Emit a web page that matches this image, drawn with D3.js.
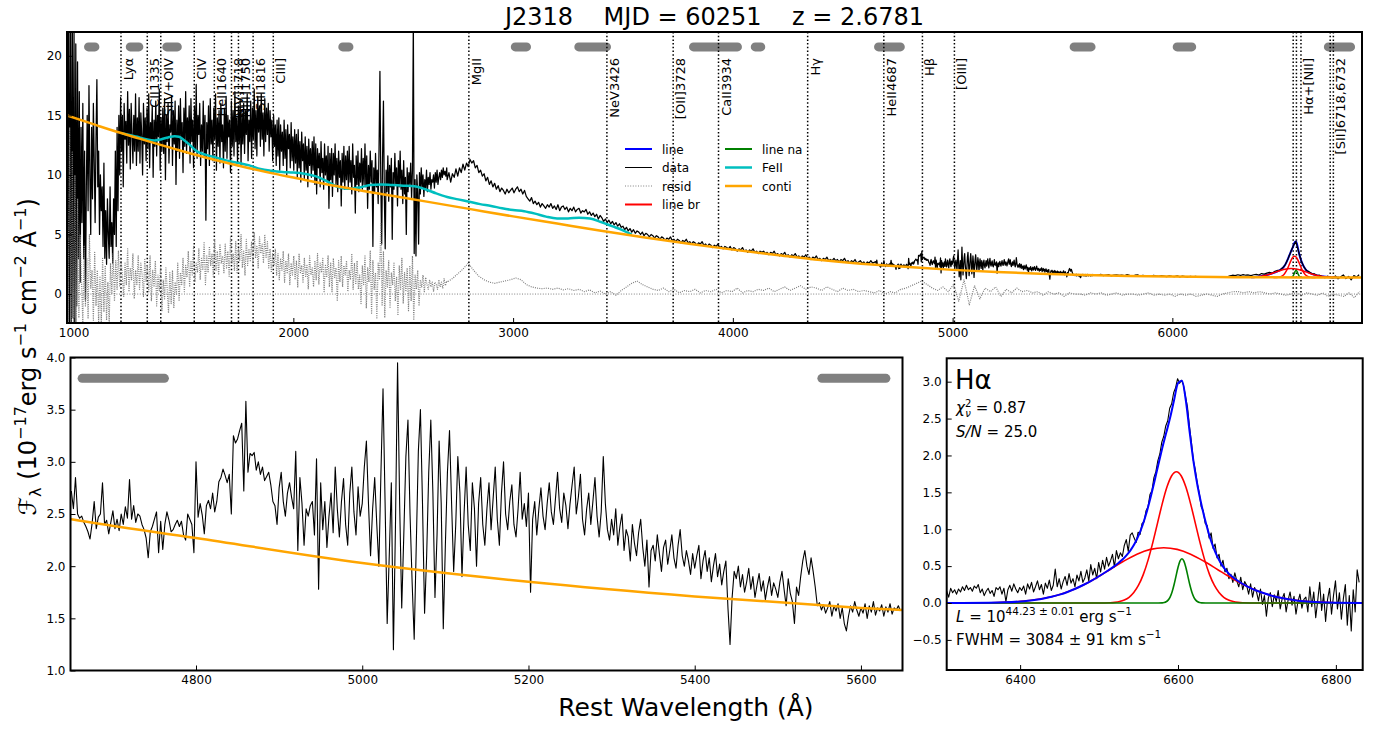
<!DOCTYPE html>
<html><head><meta charset="utf-8">
<script src="https://cdn.jsdelivr.net/npm/d3@7"></script>
<style>
body{margin:0;background:#fff;}
svg{display:block;font-family:"DejaVu Sans",sans-serif;}
</style></head>
<body><svg id="c" width="1379" height="731"></svg>
<script>
// ---------------- DATA ----------------
const titleText = "J2318    MJD = 60251    z = 2.6781";
const xLabelText = "Rest Wavelength (Å)";
const topXTicks = [1000,2000,3000,4000,5000,6000];
const topYTicks = [0,5,10,15,20];
const hbXTicks = [4800,5000,5200,5400,5600];
const hbYTicks = [1.0,1.5,2.0,2.5,3.0,3.5,4.0];
const haXTicks = [6400,6600,6800];
const haYTicks = [-0.5,0.0,0.5,1.0,1.5,2.0,2.5,3.0];

// observed spectrum (rest wavelength grid start/step, flux in 1e-17)
const fluxUVStart = 970, fluxUVStep = 4;
const fluxUV = [
24,-4,26,-3,23,-4,25,-2,22,-3,21,-1,19.5,3,17,1,14,6,16,3,
12,-0.5,9,15,7,17.5,10,5,14,8,16,11,6,13,18,9,12,5,10,7,
9,4,11,3,7,2.5,8,5,3,9,4,6,2.6,8,5,12,4,14,7,15,
10,16.5,12,15,9,16,13,14.5,11,17,12.5,15.5,10.5,16,13.5,11,15,12,16.8,10.8,
14.8,12,16.5,11,15.2,13.4,10,16,12.6,14.8,11.2,15.6,12.2,16.8,10.6,14.4,13,15.8,9.8,14.6,
12.4,16.2,11.6,15,13.2,17.2,10.4,14.8,12,15.6,11.8,16.4,9.6,15,12.8,16,11,14.2,13.6,16.6,
10.8,15.4,12.6,16.2,9.2,14.6,12,15.8,11.4,16.4,13,14.4,10.2,15.6,12.4,17,11.8,14.8,12.6,15.8,
11,16.4,12.8,14.6,10.6,15.8,12.2,17.6,11.4,15,13.4,16,10.8,14.2,12,16.2,11.6,15,6.2,14.4,
12.2,15.8,10.8,16.4,12.6,14.6,11.2,15.6,13,16.8,10.4,14.8,12.4,15.4,11,16,12.8,14.2,10.6,15.6,
12,16.6,11.4,15,13.2,14.6,10.2,16.2,12.4,15.4,11.6,17,12.8,14.8,11,15.8,12.6,16.4,10.8,15.2,
12.6,16,11.8,15.4,13.4,16.8,11.2,14.6,12.8,16.2,11.4,15.6,13,17.2,12.2,15.4,11.6,16.6,13.6,15.8,
12.4,16.8,13,15.2,11.6,16.4,12.8,15.6,13.4,16,12,15.4,13.2,14.6,11.2,15,12.4,14.2,10.8,14.6,
11.6,14.8,10.4,14.2,12,13.6,10.8,14.6,11.4,13.8,10,14.2,12.2,13.4,10.6,14.4,11.2,13.2,10.4,13.8,
11,13.4,9.8,13.8,10.6,12.8,9.4,13.6,11.2,12.6,9.6,13.2,10.4,12.4,9,13,10.8,12.2,9.8,12.8,
10.4,13.2,9.2,12.6,8.4,12.2,10.6,11.8,9,12.8,10.2,11.4,8.8,12.6,10,11.6,9.4,12.4,7.2,11.8,
9.6,12.2,8.2,11.8,10,12.6,9.2,11.4,8.6,12,9.8,11.2,7.4,11.8,9.4,12.4,8.8,11.6,9.6,12,
9,12.4,9.4,11.2,8.4,12.6,9.8,10.8,6.8,11.6,9.2,12,8.6,11,9.4,12.2,8.8,11.4,9.2,12.6,
9,11.6,7.2,10.8,8.8,12,9.4,11.2,4,10.6,8.6,11.8,9,10.4,7.6,12.2,18.7,9.4,4.2,11.4,
16.2,8.4,3.8,10.4,8.6,11.6,7.8,10.8,9,11.4,4.6,10.2,8.8,11.8,9.2,10.6,7.4,11.2,9,12,
8.8,10.4,7.6,11.2,8.4,9.8,5,10.6,8.6,10.2,9.2,11,8,10.4,23,3.4,9.6,3.2,10,8.4,
4.2,10.2,8.4,10.6,9,10,8.2,9.6,8.8,10.4,8.6,9.8,9.2,10.2,8.8,9.6,9.4,10,8.9,10.2,
9.4,10.4,9.2,9.8,10.2,9.6,10.4,9.8,10.6,10,10.3,9.9,10.6];

const fluxMidStart = 2700, fluxMidStep = 8;
const fluxMid = [
9.6,10.2,9.4,10.1,9.8,10.5,9.9,10.6,10.2,10.9,10.4,11.0,10.7,11.3,11.0,11.2,10.6,10.8,10.2,10.4,
9.9,10.1,9.5,9.8,9.2,9.5,9.0,9.3,8.8,9.1,8.6,8.9,8.7,8.4,8.8,8.5,8.7,8.9,8.5,8.8,
9.0,8.6,8.8,8.4,8.7,8.2,8.0,7.8,8.1,7.6,7.8,7.5,7.7,7.3,7.6,7.4,7.2,7.5,7.3,7.6,
7.2,7.4,7.1,7.5,7.0,7.3,7.4,7.1,7.3,6.9,7.2,7.0,7.3,6.9,7.1,7.2,6.8,7.0,6.9,7.1,
6.7,6.9,6.6,6.8,6.5,6.7,6.3,6.6,6.4,6.1,6.3,6.0,6.2,5.9,6.1,5.8,6.0,5.7,5.9,5.6,
5.7,5.4,5.6,5.3,5.5,5.2,5.4,5.1,5.3,5.2,5.0,5.2,4.9,5.1,5.0,4.8,5.0,4.9,4.7,4.9,
4.8,4.6,4.8,4.7,4.5,4.7,4.6,4.8,4.5,4.6,4.4,4.6,4.5,4.3,4.5,4.4,4.6,4.3,4.4,4.2,
4.4,4.3,4.1,4.3,4.2,4.4,4.1,4.2,4.0,4.2,4.1,3.9,4.1,4.0,4.2,3.9,4.0,3.8,4.0,3.9,
3.8,4.0,3.7,3.9,3.8,3.6,3.8,3.7,3.9,3.6,3.7,3.5,3.7,3.6,3.8,3.5,3.6,3.4,3.6,3.5,
3.6,3.4,3.5,3.3,3.5,3.4,3.6,3.3,3.4,3.2,3.4,3.3,3.5,3.2,3.3,3.1,3.3,3.2,3.4,3.1,
3.2,3.0,3.2,3.1,3.3,3.0,3.1,2.9,3.1,3.0,3.2,2.9,3.0,2.8,3.0,2.9,3.1,2.8,2.9,2.8,
3.0,2.8,2.9,2.7,2.9,2.8,3.0,2.7,2.8,2.6,2.8,2.7,2.9,2.6,2.7,2.8,2.6,2.7,2.5,2.7,
2.6,2.8,2.6];

const fluxHbStart = 4650, fluxHbStep = 2.5;
const fluxHb = [
2.72,2.55,2.85,2.50,2.46,2.48,2.42,2.38,2.33,2.26,2.41,2.62,2.36,2.47,2.50,2.80,2.40,2.44,2.31,2.42,
2.53,2.36,2.45,2.34,2.50,2.40,2.57,2.46,2.83,2.45,2.58,2.42,2.50,2.48,2.40,2.35,2.27,2.08,2.33,2.38,
2.45,2.52,2.13,2.43,2.16,2.40,2.52,2.44,2.33,2.35,2.40,2.44,2.38,2.43,2.30,2.25,2.50,2.45,2.40,2.13,
3.00,2.47,2.60,2.49,2.31,2.58,2.63,2.55,2.70,2.52,2.62,2.81,2.85,2.93,2.87,2.80,2.88,2.50,3.25,3.18,
3.22,3.30,3.37,2.72,3.58,2.90,3.08,3.06,3.09,2.92,3.00,2.88,2.95,2.82,2.86,2.90,2.78,2.62,2.58,2.40,
2.75,2.90,2.62,2.48,2.70,2.80,2.66,2.55,3.10,2.15,2.85,2.60,2.20,2.55,2.48,2.58,2.62,2.30,3.03,1.78,
2.80,2.35,2.62,2.18,2.48,2.70,2.32,2.95,2.55,2.28,2.62,2.84,2.40,2.20,2.70,2.95,2.52,2.30,2.76,2.48,
2.60,2.95,3.20,2.60,2.10,2.55,2.85,2.40,2.00,2.90,3.70,2.60,1.45,2.10,2.80,1.20,2.40,3.95,2.60,1.60,
2.30,3.05,3.40,2.50,1.85,1.30,2.20,3.10,3.50,2.60,1.55,2.10,2.90,3.40,2.70,1.70,2.30,3.20,2.60,1.40,
2.20,2.90,3.30,2.60,1.95,2.40,3.05,2.70,1.90,2.50,2.95,2.40,2.15,2.80,2.55,2.00,2.60,2.85,2.40,2.20,
2.55,2.80,2.35,2.65,2.95,2.45,2.20,2.70,3.00,2.50,2.35,2.62,2.78,2.40,2.28,2.55,2.90,2.45,2.60,2.38,
2.70,1.75,2.45,2.62,2.30,2.55,2.75,2.48,2.35,2.60,2.80,2.52,2.40,2.65,2.90,2.55,2.42,2.70,2.58,2.36,
2.60,2.78,2.95,2.50,2.66,2.88,2.45,2.30,2.55,2.70,2.40,2.62,2.85,2.48,2.28,2.52,3.05,2.60,2.35,2.25,
2.45,2.30,2.55,2.20,2.38,2.50,2.15,2.35,2.28,2.05,2.40,2.22,2.10,2.32,2.45,2.18,2.00,2.25,1.80,2.15,
2.20,2.05,2.30,2.12,1.95,2.18,2.25,2.02,2.15,2.30,2.08,1.98,2.20,2.35,2.10,2.00,2.15,2.05,1.92,2.12,
1.98,2.10,2.20,1.88,2.05,2.15,1.95,2.08,1.85,2.00,2.12,1.90,2.02,1.82,1.95,2.05,1.60,1.25,1.70,1.95,
1.88,2.00,1.80,1.92,1.75,1.85,1.98,1.78,1.90,1.70,1.82,1.93,1.76,1.86,1.68,1.80,1.90,1.72,1.84,1.78,
1.70,1.85,1.95,1.78,1.62,1.88,1.74,1.66,1.45,1.80,1.72,1.90,2.05,2.15,2.00,1.92,2.08,1.95,1.80,1.62,
1.65,1.58,1.63,1.55,1.60,1.66,1.52,1.62,1.57,1.64,1.50,1.60,1.45,1.38,1.52,1.62,1.56,1.66,1.58,1.52,
1.60,1.55,1.64,1.50,1.62,1.56,1.66,1.53,1.60,1.57,1.63,1.52,1.61,1.56,1.64,1.54,1.60,1.58,1.62,1.57];

const fluxRedStart = 5650, fluxRedStep = 12;
const fluxRed = [
1.62,1.58,1.66,1.55,1.60,1.64,1.52,1.59,1.62,1.56,
1.60,1.54,1.63,1.57,1.52,1.58,1.61,1.50,1.56,1.53,
1.55,1.49,1.57,1.52,1.48,1.54,1.50,1.46,1.53,1.49,
1.47,1.52,1.45,1.50,1.46,1.43,1.49,1.44,1.48,1.42,
1.46,1.41,1.45,1.43,1.47,1.40,1.44,1.42,1.46,1.41,
1.45,1.52,1.58,1.54,1.62,1.56,1.63,1.58,1.60,1.55,
1.62,1.66,1.60,1.72,1.68,1.76,1.82,1.75,1.90,1.98,
2.02,2.20,2.48,2.95,3.50,4.04,4.42,3.60,2.80,2.31,
1.98,1.88,1.72,1.70,1.55,1.58,1.45,1.38,1.50,1.40,
1.35,1.52,1.28,1.46,1.60,1.30,1.48,1.20,1.55,1.42,
1.62];

// residuals
const residUVStart = 970, residUVStep = 6;
const residUV = [
16,-2.5,14,-3,12,-2,10,-3,8,-2,5,1,-2.4,4,-1,3,-2,5,0.5,2,
-2.2,3.5,-1,2,-2.4,1.5,-2.5,3,-1.5,2.4,-2.2,1,-2.5,2.6,0,3.4,-0.6,2.8,0.4,3.6,
0.6,3,1.4,-0.2,2.6,0.8,3.8,0.2,2.2,1.2,3.4,-0.4,2,0.8,3.2,0.4,2.6,1.6,-0.2,3,
1,2.4,0.2,3.2,-0.6,2,0.6,2.8,-1,1.6,0.2,2.4,-1.4,1.2,-0.4,2.2,0.4,-1.6,1.8,-0.8,
2,-1.2,1,0,2.6,-0.6,1.8,0.8,3,0.2,2.4,1.4,3.6,0.6,2.8,1.6,4,1,2.6,1.8,
3.8,1.2,3,2,4.4,0.8,3.2,1.8,4,2.4,3.4,1.4,4.6,2,3.6,1.6,4.2,2.6,3.2,1.8,
4.2,2.2,3.6,1.4,4.8,2.6,3.4,2,4.4,1.8,3.8,2.8,5,2.2,3.6,1.6,4.6,2.4,3.8,2.8,
4.4,2.4,5.2,3,4,2.2,4.8,3.4,4.2,2.6,5,3,4.4,2.2,3.8,1.8,3.4,2.4,3.8,1.6,
3.4,1.2,3,2,3.6,1,2.8,1.8,3.4,0.8,2.6,1.6,3.2,1.2,2.8,0.6,3.4,1.8,2.4,1,
3,1.4,2.4,0.4,3.2,1.6,2.2,0.6,2.8,1.2,3.4,0.8,2.6,1.8,3,0.2,2.4,1.4,3.2,0.6,
2.6,0.2,3,1.4,2.2,-0.6,2.8,1,3.2,0.6,2.4,1.6,2.8,0.2,2,1.2,3.4,0.4,2.6,0.8,
2.8,0.4,1.6,-0.8,2.4,0.8,3.2,-1.2,2.2,1,3.6,-1.6,2.8,0.4,1.8,-2,2.6,1.2,6,-1,
3.6,-2,2,0.6,2.8,-1.2,1.8,0.8,2.6,-0.6,1.4,-1.8,2.4,0.4,3,-0.8,1.8,0.2,2.2,-1.4,
2.4,-0.6,3.2,-2.2,1.6,0.4,2,-1,1.2,0.6,1.6,0.2,1.4,0.8,0.4,1.2,0.6,1,0.2,1,
0.8,0.4,1.2,0.6,1,0.5,1.3,0.7,1.1];

const residOptStart = 2700, residOptStep = 24;
const residOpt = [
1.0,1.3,1.7,2.1,2.6,2.0,1.5,1.2,1.0,0.9,
1.0,1.1,1.2,1.35,1.2,0.8,0.6,0.5,0.45,0.5,
0.4,0.5,0.35,0.45,0.3,0.4,0.2,0.35,0.1,0.25,
0.0,0.2,-0.1,0.3,0.6,0.9,1.1,0.8,0.6,0.4,
0.3,0.5,0.2,0.4,0.1,0.3,0.2,0.4,0.1,0.3,
0.2,0.4,0.1,0.3,0.2,0.5,0.1,0.3,0.2,0.4,
0.3,0.5,0.2,0.4,0.6,0.3,0.5,0.7,0.4,0.6,
0.5,0.3,0.6,0.4,0.2,0.5,0.3,0.4,0.2,0.3,
0.2,0.1,0.3,0.0,0.2,0.1,0.4,0.5,0.7,0.9,
1.1,0.8,0.5,0.3,0.6,0.2,0.8,-0.6,1.2,-0.9,
0.7,-0.4,0.5,0.2,0.6,-0.2,0.4,0.1,0.5,0.2,
0.3,0.1,0.2,-0.1,0.2,0.0,0.1,-0.2,0.1,0.0,
0.0,-0.1,0.1,0.0,0.1,-0.1,0.0,0.1,-0.1,0.0,
0.0,-0.1,0.0,0.1,-0.1,0.0,-0.1,0.0,-0.2,0.0,
-0.1,0.0,-0.2,-0.1,0.0,-0.1,-0.2,0.0,0.1,0.2,
0.2,0.1,0.2,0.1,0.2,0.1,0.0,0.1,0.0,-0.1,
0.0,0.1,-0.1,0.1,0.0,-0.1,0.1,-0.2,0.0,-0.1,
-0.2,0.1,-0.3,0.2];

// continuum (power law) and continuum+FeII model
const contiModel = [[970,15.0],[1100,14.2],[1200,13.6],[1300,13.05],[1400,12.5],[1500,11.97],[1600,11.47],[1700,11.0],[1800,10.56],[1900,10.15],[2000,9.78],[2200,9.05],[2400,8.4],[2600,7.78],[2800,7.15],[3000,6.52],[3200,5.92],[3400,5.32],[3600,4.75],[3800,4.22],[4000,3.73],[4200,3.28],[4400,2.85],[4650,2.45],[4800,2.27],[5000,2.03],[5200,1.85],[5400,1.71],[5600,1.60],[5800,1.52],[6000,1.47],[6200,1.43],[6400,1.41],[6600,1.40],[6863,1.38]];
const feiiModel = [[1220,13.5],[1260,13.33],[1290,13.2],[1330,13.0],[1370,12.9],[1400,13.0],[1430,13.15],[1460,13.25],[1480,13.2],[1500,12.95],[1530,12.5],[1560,12.0],[1600,11.7],[1650,11.45],[1700,11.2],[1750,11.0],[1800,10.8],[1850,10.5],[1900,10.35],[1950,10.25],[2000,10.2],[2050,10.1],[2100,9.9],[2150,9.5],[2200,9.0],[2250,8.85],[2300,8.95],[2350,9.15],[2400,9.2],[2450,9.15],[2500,9.1],[2550,9.05],[2600,8.8],[2650,8.45],[2700,8.15],[2750,7.95],[2800,7.75],[2850,7.55],[2900,7.4],[2950,7.2],[3000,7.05],[3050,6.95],[3100,6.75],[3150,6.5],[3200,6.35],[3250,6.35],[3300,6.4],[3350,6.35],[3400,6.05],[3450,5.7],[3500,5.35],[3540,5.0]];

// H-alpha models in top panel (continuum added)
const topLineTotal = [[6358,1.42],[6378,1.44],[6398,1.49],[6418,1.55],[6438,1.64],[6448,1.70],[6458,1.76],[6468,1.83],[6478,1.90],[6488,1.99],[6498,2.12],[6508,2.31],[6518,2.62],[6528,3.04],[6538,3.50],[6548,3.91],[6558,4.38],[6563,4.41],[6568,4.14],[6578,3.29],[6588,2.72],[6598,2.31],[6608,2.03],[6618,1.85],[6628,1.75],[6638,1.67],[6648,1.61],[6658,1.57],[6678,1.50],[6698,1.45],[6718,1.42],[6758,1.40]];
const topBroadN = [[6460,1.40],[6484,1.42],[6496,1.48],[6508,1.64],[6520,1.98],[6532,2.48],[6538,2.74],[6544,2.97],[6550,3.13],[6556,3.18],[6562,3.13],[6568,2.97],[6574,2.74],[6580,2.48],[6592,1.98],[6604,1.64],[6616,1.48],[6628,1.42],[6652,1.40]];
const topBroadW = [[6336,1.41],[6370,1.43],[6404,1.50],[6438,1.64],[6472,1.86],[6506,2.06],[6540,2.15],[6574,2.06],[6608,1.86],[6642,1.64],[6676,1.50],[6710,1.43],[6744,1.41]];
const topNarrow = [[6538,1.40],[6543,1.42],[6548,1.48],[6553,1.65],[6558,1.88],[6563,2.00],[6568,1.88],[6573,1.65],[6578,1.48],[6583,1.42],[6588,1.40]];

// H-alpha panel (continuum subtracted)
const haDataStart = 6307, haDataStep = 2.5;
const haData = [
0.16,0.08,0.20,0.14,0.18,0.12,0.19,0.15,0.22,0.17,0.24,0.18,0.21,0.16,0.23,0.20,0.25,0.14,0.19,0.10,
0.16,0.20,0.13,0.17,0.09,0.21,0.18,0.22,0.12,0.20,0.02,0.18,0.24,0.16,0.26,0.19,0.14,0.21,
0.17,0.23,0.12,0.26,0.19,0.28,0.15,0.22,0.30,0.18,0.25,0.12,0.27,0.20,0.31,0.17,0.24,0.46,0.22,0.33,
0.19,0.29,0.36,0.24,0.40,0.27,0.33,0.22,0.38,0.30,0.43,0.28,
0.34,0.45,0.30,0.52,0.38,0.47,0.33,0.55,0.42,0.58,0.46,0.62,0.50,0.57,0.66,0.49,0.71,0.60,0.68,0.63,
0.78,0.86,0.70,0.92,0.95,0.88,
0.82,0.96,0.93,1.08,1.10,1.25,1.30,1.47,1.52,1.70,1.78,1.93,2.02,2.18,2.26,2.40,2.47,2.64,2.70,2.85,
2.92,3.04,2.98,3.02,2.95,2.80,2.66,2.40,2.18,1.93,1.80,1.62,1.49,1.30,1.25,1.08,1.05,0.88,0.95,0.74,
0.80,0.61,0.66,0.50,0.58,0.42,
0.47,0.33,0.39,0.28,0.41,0.30,0.22,0.35,0.18,0.29,0.24,0.12,0.26,0.08,0.21,0.15,0.03,0.19,-0.02,0.10,
-0.18,0.07,0.14,-0.05,0.11,0.02,0.17,-0.08,0.06,0.13,-0.12,0.04,0.15,-0.03,0.09,-0.15,0.02,0.12,-0.07,0.05,
0.08,-0.12,0.22,-0.05,0.15,-0.20,0.03,0.28,-0.10,0.12,-0.25,0.05,0.20,-0.15,0.10,0.30,-0.08,0.14,-0.22,0.06,
0.25,-0.30,0.10,-0.38,0.18,-0.12,0.45,0.28];
const haBroadN = [[6307,0],[6500,0],[6514,0.004],[6520,0.009],[6526,0.020],[6532,0.041],[6538,0.078],[6544,0.142],[6550,0.241],[6556,0.385],[6562,0.578],[6568,0.815],[6574,1.080],[6580,1.344],[6586,1.571],[6592,1.725],[6598,1.78],[6604,1.725],[6610,1.571],[6616,1.344],[6622,1.080],[6628,0.815],[6634,0.578],[6640,0.385],[6646,0.241],[6652,0.142],[6658,0.078],[6664,0.041],[6670,0.020],[6676,0.009],[6682,0.004],[6700,0],[6834,0]];
const haBroadW = [[6307,0],[6344,0.002],[6361,0.004],[6378,0.008],[6395,0.017],[6412,0.033],[6429,0.060],[6446,0.101],[6463,0.162],[6480,0.244],[6497,0.343],[6514,0.455],[6531,0.566],[6548,0.662],[6565,0.727],[6582,0.75],[6599,0.727],[6616,0.662],[6633,0.566],[6650,0.455],[6667,0.343],[6684,0.244],[6701,0.162],[6718,0.101],[6735,0.060],[6752,0.033],[6769,0.017],[6786,0.008],[6803,0.004],[6820,0.002],[6834,0]];
const haNarrow = [[6307,0],[6575,0],[6580,0.002],[6582.5,0.007],[6585,0.017],[6587.5,0.039],[6590,0.081],[6592.5,0.150],[6595,0.247],[6597.5,0.364],[6600,0.481],[6602.5,0.568],[6605,0.6],[6607.5,0.568],[6610,0.481],[6612.5,0.364],[6615,0.247],[6617.5,0.150],[6620,0.081],[6622.5,0.039],[6625,0.017],[6627.5,0.007],[6630,0.002],[6635,0],[6834,0]];
const haTotal = [[6307,0],[6360,0.004],[6380,0.009],[6400,0.021],[6410,0.031],[6420,0.044],[6430,0.062],[6440,0.085],[6450,0.114],[6460,0.150],[6470,0.193],[6480,0.244],[6490,0.300],[6500,0.363],[6510,0.430],[6520,0.504],[6525,0.546],[6530,0.592],[6535,0.648],[6540,0.716],[6545,0.802],[6550,0.912],[6555,1.051],[6560,1.220],[6565,1.419],[6570,1.640],[6575,1.871],[6580,2.096],[6585,2.303],[6590,2.510],[6595,2.749],[6600,2.979],[6605,3.013],[6610,2.741],[6615,2.299],[6620,1.892],[6625,1.576],[6630,1.319],[6635,1.097],[6640,0.906],[6645,0.750],[6650,0.625],[6655,0.527],[6660,0.452],[6665,0.392],[6670,0.345],[6680,0.271],[6690,0.213],[6700,0.166],[6710,0.128],[6720,0.096],[6730,0.070],[6740,0.050],[6750,0.035],[6760,0.024],[6780,0.011],[6800,0.004],[6834,0.001]];

// continuum fitting windows (Å)
const contWindows = [[1068,1097],[1258,1297],[1424,1472],[2225,2253],[3010,3061],[3299,3425],[3821,4021],[4102,4127],[4663,4762],[5553,5630],[6022,6088],[6710,6811]];
const windowLevelTop = 20.75, windowLevelHb = 3.8;

// emission line markers
const markerLines = [1215.67,1335.30,1396.76,1549.06,1640.42,1718.55,1750.26,1816.98,1908.73,2798.75,3426.84,3728.48,3934.78,4340.47,4687.02,4862.68,5008.24,6549.85,6564.61,6585.28,6718.29,6732.67];
const markerLabels = [["Lyα",1215.67],["CII1335",1335.30],["SiIV+OIV",1396.76],["CIV",1549.06],["HeII1640",1640.42],["NIV]1718",1718.55],["NIII]1750",1750.26],["SiII1816",1816.98],["CIII]",1908.73],["MgII",2798.75],["NeV3426",3426.84],["[OII]3728",3728.48],["CaII3934",3934.78],["Hγ",4340.47],["HeII4687",4687.02],["Hβ",4862.68],["[OIII]",5008.24],["Hα+[NII]",6585.28],["[SII]6718,6732",6732.67]];

const legendNames = ["line","data","resid","line br","line na","FeII","conti"];
const legendColors = ["blue","black","grey","red","green","c","orange"];

// ---------------- DRAW ----------------
const svg = d3.select("#c");
const defs = svg.append("defs");
const toPts = (start, step, arr) => arr.map((v,i)=>[start+i*step, v]);
const colorOf = c => c==="c" ? "#00BFBF" : c;

const boxT = {x0:67,x1:1362,y0:32,y1:323};
const boxL = {x0:70.5,x1:902.5,y0:357.5,y1:670.5};
const boxR = {x0:946.7,x1:1362.7,y0:358.3,y1:670};

const xT = d3.scaleLinear().domain([970,6863]).range([boxT.x0,boxT.x1]);
const yT = d3.scaleLinear().domain([-2.43,22.0]).range([boxT.y1,boxT.y0]);
const xL = d3.scaleLinear().domain([4649,5650]).range([boxL.x0,boxL.x1]);
const yL = d3.scaleLinear().domain([1,4]).range([boxL.y1,boxL.y0]);
const xR = d3.scaleLinear().domain([6307,6834]).range([boxR.x0,boxR.x1]);
const yR = d3.scaleLinear().domain([-0.908,3.317]).range([boxR.y1,boxR.y0]);

function clip(id,b){defs.append("clipPath").attr("id",id).append("rect").attr("x",b.x0).attr("y",b.y0).attr("width",b.x1-b.x0).attr("height",b.y1-b.y0);}
clip("cT",boxT); clip("cL",boxL); clip("cR",boxR);

function axes(b,x,y,xt,yt,fx,fy){
  const gx = svg.append("g").attr("transform",`translate(0,${b.y1})`)
    .call(d3.axisBottom(x).tickValues(xt).tickSize(-5).tickPadding(5).tickFormat(fx));
  gx.select(".domain").remove();
  const gy = svg.append("g").attr("transform",`translate(${b.x0},0)`)
    .call(d3.axisLeft(y).tickValues(yt).tickSize(-5).tickPadding(5).tickFormat(fy));
  gy.select(".domain").remove();
  [gx,gy].forEach(g=>{g.attr("font-size",12).attr("font-family","DejaVu Sans");
    g.selectAll("line").attr("stroke","#000"); g.selectAll("text").attr("fill","#000");});
}
function frame(b){svg.append("rect").attr("x",b.x0).attr("y",b.y0).attr("width",b.x1-b.x0).attr("height",b.y1-b.y0)
  .attr("fill","none").attr("stroke","#000").attr("stroke-width",2);}
function path(g,data,x,y,color,w,opts={}){
  const line = d3.line().x(d=>x(d[0])).y(d=>y(d[1])).curve(opts.curve||d3.curveLinear);
  const p = g.append("path").datum(data).attr("d",line).attr("fill","none").attr("stroke",color).attr("stroke-width",w)
    .attr("stroke-linejoin","round");
  if(opts.dash) p.attr("stroke-dasharray",opts.dash);
  return p;
}

// title
svg.append("text").attr("x",(boxT.x0+boxT.x1)/2).attr("y",25).attr("text-anchor","middle").attr("font-size",24)
  .style("white-space","pre").text(titleText);

// ===== TOP PANEL =====
const gT = svg.append("g").attr("clip-path","url(#cT)");
gT.selectAll(".win").data(contWindows).join("line")
  .attr("x1",d=>xT(d[0])).attr("x2",d=>xT(d[1])).attr("y1",yT(windowLevelTop)).attr("y2",yT(windowLevelTop))
  .attr("stroke","grey").attr("stroke-width",9).attr("stroke-linecap","round");
gT.selectAll(".mk").data(markerLines).join("line")
  .attr("x1",d=>xT(d)).attr("x2",d=>xT(d)).attr("y1",boxT.y0).attr("y2",boxT.y1)
  .attr("stroke","#000").attr("stroke-width",1.5).attr("stroke-dasharray","1.5,2.2");
gT.selectAll(".ml").data(markerLabels).join("text")
  .attr("transform",d=>`translate(${xT(d[1])+12},58) rotate(-90)`).attr("text-anchor","end")
  .attr("font-size",13).text(d=>d[0]);
const topData = [].concat(toPts(fluxUVStart,fluxUVStep,fluxUV), toPts(fluxMidStart,fluxMidStep,fluxMid),
  toPts(fluxHbStart,fluxHbStep,fluxHb), toPts(fluxRedStart,fluxRedStep,fluxRed));
const topResid = [].concat(toPts(residUVStart,residUVStep,residUV), toPts(residOptStart,residOptStep,residOpt));
path(gT,topLineTotal,xT,yT,"blue",2,{curve:d3.curveMonotoneX});
path(gT,topData,xT,yT,"#000",1.25);
gT.append("line").attr("x1",boxT.x0).attr("x2",boxT.x1).attr("y1",yT(0)).attr("y2",yT(0))
  .attr("stroke","grey").attr("stroke-width",1).attr("stroke-dasharray","1,1.6");
path(gT,topResid,xT,yT,"grey",1.2,{dash:"1,1.2"});
path(gT,topBroadN,xT,yT,"red",1.5,{curve:d3.curveMonotoneX});
path(gT,topBroadW,xT,yT,"red",1.5,{curve:d3.curveMonotoneX});
path(gT,topNarrow,xT,yT,"green",1.5,{curve:d3.curveMonotoneX});
path(gT,feiiModel,xT,yT,colorOf("c"),2.5,{curve:d3.curveMonotoneX});
path(gT,contiModel,xT,yT,"orange",2.5,{curve:d3.curveMonotoneX});
axes(boxT,xT,yT,topXTicks,topYTicks,d3.format("d"),d3.format("d"));
frame(boxT);

// legend
const lg = svg.append("g").attr("font-size",12);
legendNames.forEach((n,i)=>{
  const col = i<4?0:1, row = i<4?i:i-4;
  const lx = col===0?625:725, ly = 149+row*18.5;
  const ln = lg.append("line").attr("x1",lx).attr("x2",lx+27).attr("y1",ly).attr("y2",ly)
    .attr("stroke",colorOf(legendColors[i])).attr("stroke-width", n==="data"||n==="resid"?1:(n==="FeII"||n==="conti"?2.5:2));
  if(n==="resid") ln.attr("stroke-dasharray","1,1.6");
  lg.append("text").attr("x",lx+37).attr("y",ly+4.5).text(n);
});

// ===== BOTTOM LEFT =====
const gL = svg.append("g").attr("clip-path","url(#cL)");
gL.selectAll(".win").data(contWindows).join("line")
  .attr("x1",d=>xL(d[0])).attr("x2",d=>xL(d[1])).attr("y1",yL(windowLevelHb)).attr("y2",yL(windowLevelHb))
  .attr("stroke","grey").attr("stroke-width",9).attr("stroke-linecap","round");
path(gL,toPts(fluxHbStart,fluxHbStep,fluxHb),xL,yL,"#000",1.1);
path(gL,contiModel,xL,yL,"orange",2.5,{curve:d3.curveMonotoneX});
axes(boxL,xL,yL,hbXTicks,hbYTicks,d3.format("d"),d3.format(".1f"));
frame(boxL);

// ===== BOTTOM RIGHT (H-alpha) =====
const gR = svg.append("g").attr("clip-path","url(#cR)");
path(gR,toPts(haDataStart,haDataStep,haData),xR,yR,"#000",1.1);
path(gR,haBroadN,xR,yR,"red",1.6,{curve:d3.curveMonotoneX});
path(gR,haBroadW,xR,yR,"red",1.6,{curve:d3.curveMonotoneX});
path(gR,haNarrow,xR,yR,"green",1.6,{curve:d3.curveMonotoneX});
path(gR,haTotal,xR,yR,"blue",2,{curve:d3.curveMonotoneX});
axes(boxR,xR,yR,haXTicks,haYTicks,d3.format("d"),d3.format(".1f"));
frame(boxR);

// H-alpha texts
const tx = 955;
svg.append("text").attr("x",tx).attr("y",389).attr("font-size",26).text("Hα");
const chi = svg.append("text").attr("x",tx+1).attr("y",413).attr("font-size",15);
chi.append("tspan").attr("font-style","italic").text("χ");
chi.append("tspan").attr("font-size",10).attr("dy",-6).text("2");
chi.append("tspan").attr("font-size",10).attr("font-style","italic").attr("dx",-6).attr("dy",10).text("ν");
chi.append("tspan").attr("dy",-4).text(" = 0.87");
const sn = svg.append("text").attr("x",tx+1).attr("y",437).attr("font-size",15);
sn.append("tspan").attr("font-style","italic").text("S/N");
sn.append("tspan").text(" = 25.0");
const lum = svg.append("text").attr("x",tx+1).attr("y",622).attr("font-size",15);
lum.append("tspan").attr("font-style","italic").text("L");
lum.append("tspan").text(" = 10");
lum.append("tspan").attr("font-size",10.5).attr("dy",-7).text("44.23 ± 0.01");
lum.append("tspan").attr("dy",7).text(" erg s");
lum.append("tspan").attr("font-size",10.5).attr("dy",-7).text("−1");
const fw = svg.append("text").attr("x",tx+1).attr("y",645).attr("font-size",15);
fw.append("tspan").text("FWHM = 3084 ± 91 km s");
fw.append("tspan").attr("font-size",10.5).attr("dy",-7).text("−1");

// axis labels
svg.append("text").attr("x",686).attr("y",716).attr("text-anchor","middle").attr("font-size",25).text(xLabelText);
const yl = svg.append("text").attr("transform","translate(36,357) rotate(-90)").attr("text-anchor","middle").attr("font-size",24);
yl.append("tspan").text("ℱ");
yl.append("tspan").attr("font-size",16).attr("dy",5).text("λ");
yl.append("tspan").attr("dy",-5).text(" (10");
yl.append("tspan").attr("font-size",16).attr("dy",-10).text("−17");
yl.append("tspan").attr("dy",10).text("erg s");
yl.append("tspan").attr("font-size",16).attr("dy",-10).text("−1");
yl.append("tspan").attr("dy",10).text(" cm");
yl.append("tspan").attr("font-size",16).attr("dy",-10).text("−2");
yl.append("tspan").attr("dy",10).text(" Å");
yl.append("tspan").attr("font-size",16).attr("dy",-10).text("−1");
yl.append("tspan").attr("dy",10).text(")");
</script></body></html>
